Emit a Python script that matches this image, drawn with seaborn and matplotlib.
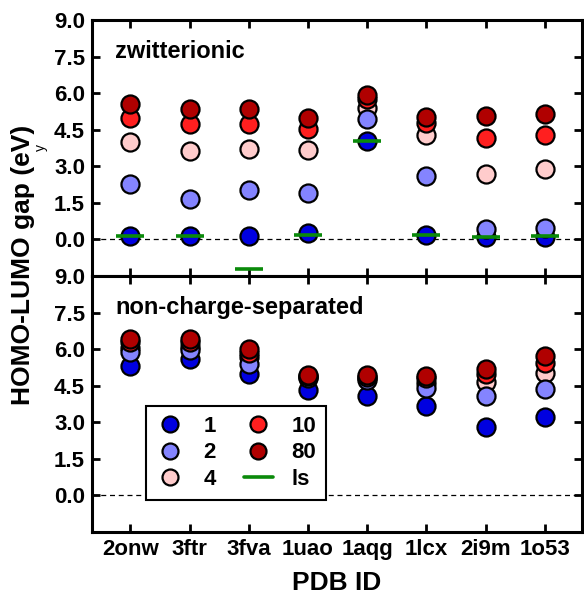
import numpy as np
import pandas as pd
import matplotlib
matplotlib.use("Agg")
import matplotlib.pyplot as plt
import seaborn as sns
from matplotlib.lines import Line2D

pdb_ids = ["2onw", "3ftr", "3fva", "1uao", "1aqg", "1lcx", "2i9m", "1o53"]
eps_labels = ["1", "2", "4", "10", "80"]

# zwitterionic (top panel)
zw_1 = [0.14, 0.16, 0.16, 0.25, 4.03, 0.20, 0.10, 0.10]
zw_2 = [2.28, 1.67, 2.02, 1.89, 4.92, 2.60, 0.41, 0.48]
zw_4 = [4.00, 3.62, 3.69, 3.66, 5.40, 4.30, 2.70, 2.87]
zw_10 = [4.96, 4.74, 4.74, 4.54, 5.74, 4.78, 4.17, 4.30]
zw_80 = [5.56, 5.36, 5.33, 4.99, 5.94, 5.01, 5.05, 5.15]
zw_ls = [0.13, 0.14, -1.20, 0.20, 4.03, 0.20, 0.11, 0.13]

# non-charge-separated (bottom panel)
nc_1 = [5.30, 5.60, 4.97, 4.33, 4.06, 3.65, 2.79, 3.21]
nc_2 = [5.90, 5.97, 5.38, 4.80, 4.75, 4.40, 4.09, 4.37]
nc_4 = [6.04, 6.10, 5.66, 4.85, 4.80, 4.60, 4.67, 5.01]
nc_10 = [6.30, 6.30, 5.83, 4.90, 4.85, 4.80, 4.99, 5.42]
nc_80 = [6.42, 6.42, 6.01, 4.95, 4.92, 4.88, 5.19, 5.70]

colors = {"1": "#0000e0", "2": "#8484ff", "4": "#ffcccc", "10": "#ff1f1f", "80": "#b00000"}
ls_color = "#0a8a0a"
zorders = {"1": 3, "2": 5, "4": 4, "10": 6, "80": 7}

yticks = [0.0, 1.5, 3.0, 4.5, 6.0, 7.5, 9.0]

sns.set_style("ticks")
plt.rcParams["font.family"] = ["Liberation Sans", "DejaVu Sans"]
plt.rcParams["font.weight"] = "bold"
for k in ["text.color", "axes.labelcolor", "xtick.color", "ytick.color", "axes.edgecolor"]:
    plt.rcParams[k] = "black"

fig = plt.figure(figsize=(5.84, 5.98), dpi=100)
ax_top = fig.add_axes([0.1575, 0.5385, 0.8391, 0.4281])
ax_bot = fig.add_axes([0.1575, 0.1104, 0.8391, 0.4281], sharex=ax_top)

x = np.arange(1, len(pdb_ids) + 1)
top_series = {"1": zw_1, "2": zw_2, "4": zw_4, "10": zw_10, "80": zw_80}
bot_series = {"1": nc_1, "2": nc_2, "4": nc_4, "10": nc_10, "80": nc_80}

msize = 13.0
for ax, series, title in [(ax_top, top_series, "zwitterionic"),
                          (ax_bot, bot_series, "non-charge-separated")]:
    ax.axhline(0.0, color="black", lw=0.9, ls=(0, (4, 3)), zorder=1)
    for lab in eps_labels:
        df = pd.DataFrame({"x": x, "y": series[lab]})
        sns.scatterplot(data=df, x="x", y="y", ax=ax, color=colors[lab],
                        s=msize ** 2, edgecolor="black", linewidth=1.6,
                        zorder=zorders[lab], legend=False, clip_on=True)
    ax.set_ylim(-1.5, 9.0)
    ax.set_yticks(yticks)
    ax.set_yticklabels([f"{v:.1f}" for v in yticks])
    ax.text(0.047, 0.875, title, transform=ax.transAxes, fontsize=17,
            fontweight="bold", va="center", ha="left")
    ax.tick_params(axis="both", which="both", direction="in", length=6,
                   width=2, top=True, right=True, labelsize=16, pad=5)
    for sp in ax.spines.values():
        sp.set_linewidth(2.2)
        sp.set_color("black")
    ax.set_xlabel("")
    ax.set_ylabel("")

df_ls = pd.DataFrame({"x": x, "y": zw_ls})
sns.scatterplot(data=df_ls, x="x", y="y", ax=ax_top, color=ls_color, marker="_",
                s=19.5 ** 2, linewidth=2.6, zorder=9, legend=False)

ax_top.set_xlim(0.35, 8.63)
ax_bot.set_xticks(x)
ax_bot.set_xticklabels(pdb_ids)
ax_top.tick_params(axis="x", labelbottom=False)
ax_bot.set_xlabel("PDB ID", fontsize=19, fontweight="bold", labelpad=8)
fig.text(0.040, 0.557, "HOMO-LUMO gap (eV)", rotation=90, fontsize=19,
         fontweight="bold", ha="center", va="center")

handles = []
for lab in ["1", "2", "4", "10", "80"]:
    handles.append(Line2D([], [], ls="", marker="o", markersize=11.5,
                          markerfacecolor=colors[lab], markeredgecolor="black",
                          markeredgewidth=1.6, label=lab))
handles.append(Line2D([], [], color=ls_color, lw=2.6, label="ls"))
leg = ax_bot.legend(handles=handles, ncol=2, loc="lower left",
                    bbox_to_anchor=(0.11, 0.125), frameon=True, fancybox=False,
                    edgecolor="black", fontsize=16, handlelength=1.3,
                    handletextpad=0.85, columnspacing=1.25, labelspacing=0.25,
                    borderpad=0.45, borderaxespad=0.0, framealpha=1)
leg.get_frame().set_linewidth(1.5)
leg.set_zorder(20)

fig.savefig("out.png", dpi=100)
